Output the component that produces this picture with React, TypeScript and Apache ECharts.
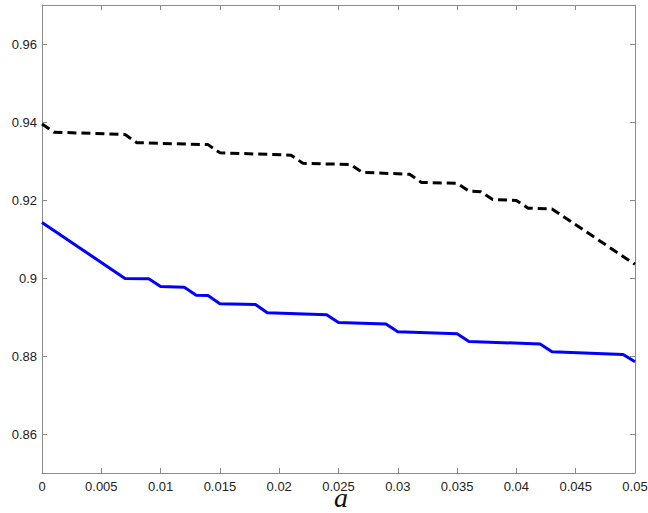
import React, { useEffect, useRef } from "react";
import * as echarts from "echarts";

const blackX = [0, 0.001, 0.007, 0.008, 0.014, 0.015, 0.021, 0.022, 0.026, 0.027, 0.031, 0.032, 0.035, 0.036, 0.037, 0.038, 0.040, 0.041, 0.043, 0.05];
const blackY = [0.9395, 0.9374, 0.9368, 0.9347, 0.9342, 0.9321, 0.9315, 0.9294, 0.9291, 0.9271, 0.9266, 0.9245, 0.9243, 0.9223, 0.9221, 0.9201, 0.9199, 0.9179, 0.9177, 0.9035];

const blueX = [0, 0.007, 0.009, 0.010, 0.012, 0.013, 0.014, 0.015, 0.018, 0.019, 0.024, 0.025, 0.029, 0.030, 0.035, 0.036, 0.042, 0.043, 0.049, 0.05];
const blueY = [0.9142, 0.8999, 0.8998, 0.8978, 0.8976, 0.8956, 0.8955, 0.8934, 0.8932, 0.8911, 0.8906, 0.8886, 0.8882, 0.8862, 0.8857, 0.8837, 0.8831, 0.8811, 0.8804, 0.8785];

const yTicks = [0.86, 0.88, 0.9, 0.92, 0.94, 0.96];
const xLabel = "a";

export default function App() {
  const ref = useRef<HTMLDivElement>(null);
  useEffect(() => {
    if (!ref.current) return;
    const chart = echarts.init(ref.current, null, { renderer: "svg" });
    const axisColor = "#8a8a8a";
    const labelStyle = { color: "#222", fontSize: 13, fontFamily: "Liberation Sans, Arial, sans-serif" };
    const xFmt = (v: number) => String(parseFloat(v.toFixed(4)));
    const yFmt = (v: number) => String(parseFloat(v.toFixed(3)));
    const xBase = {
      type: "value",
      min: 0,
      max: 0.05,
      interval: 0.005,
      axisLine: { show: true, onZero: false, lineStyle: { color: axisColor, width: 1 } },
      axisTick: { show: true, inside: true, length: 5, lineStyle: { color: axisColor } },
      splitLine: { show: false },
    };
    const yBase = {
      type: "value",
      min: 0.85,
      max: 0.97,
      axisLine: { show: true, onZero: false, lineStyle: { color: axisColor, width: 1 } },
      axisTick: { show: true, inside: true, length: 5, customValues: yTicks, lineStyle: { color: axisColor } },
      splitLine: { show: false },
    };
    chart.setOption({
      animation: false,
      backgroundColor: "#fff",
      grid: { left: 42, right: 13, top: 5, bottom: 40, containLabel: false, outerBoundsMode: "none" },
      graphic: [
        {
          type: "text",
          x: 341,
          y: 497,
          style: {
            text: xLabel,
            fill: "#111",
            fontFamily: "Liberation Serif, Times New Roman, serif",
            fontStyle: "italic",
            fontSize: 28,
            align: "center",
            verticalAlign: "middle",
          },
        },
      ],
      xAxis: [
        {
          ...xBase,
          position: "bottom",
          axisLabel: { ...labelStyle, margin: 7, formatter: xFmt },
        },
        { ...xBase, position: "top", axisLabel: { show: false } },
      ],
      yAxis: [
        {
          ...yBase,
          position: "left",
          axisLabel: { ...labelStyle, margin: 5, customValues: yTicks, formatter: yFmt },
        },
        { ...yBase, position: "right", axisLabel: { show: false } },
      ],
      series: [
        {
          type: "line",
          data: blackX.map((x, i) => [x, blackY[i]]),
          showSymbol: false,
          symbol: "none",
          lineStyle: { color: "#000", width: 3, type: [9, 5] },
          xAxisIndex: 0,
          yAxisIndex: 0,
        },
        {
          type: "line",
          data: blueX.map((x, i) => [x, blueY[i]]),
          showSymbol: false,
          symbol: "none",
          lineStyle: { color: "#0000ff", width: 3 },
          xAxisIndex: 0,
          yAxisIndex: 0,
        },
      ],
    });
    return () => chart.dispose();
  }, []);
  return (
    <div
      ref={ref}
      style={{ position: "fixed", left: 0, top: 0, width: 648, height: 513, background: "#fff" }}
    />
  );
}
